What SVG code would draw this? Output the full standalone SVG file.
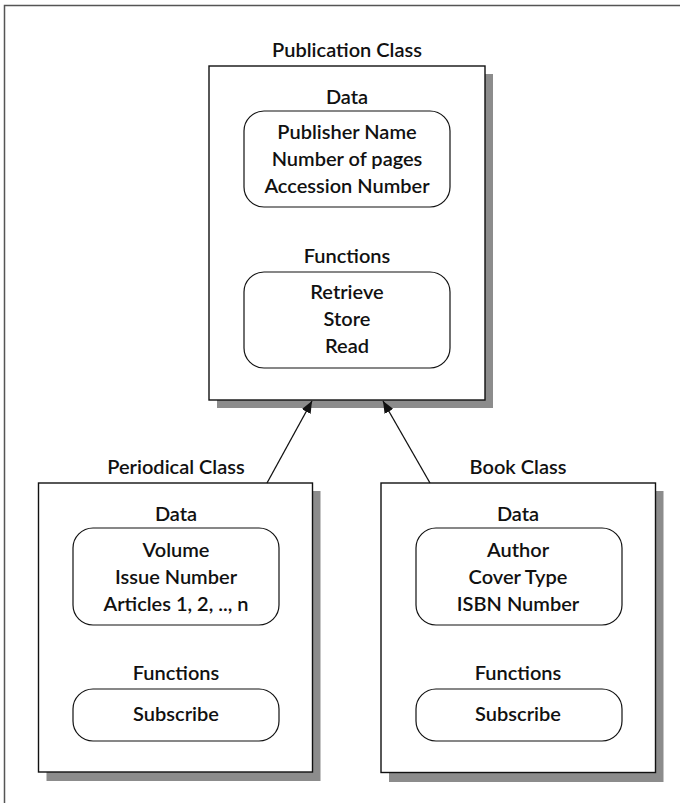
<svg xmlns="http://www.w3.org/2000/svg" width="680" height="803" viewBox="0 0 680 803">
  <style>
    .frame { fill: none; stroke: #555; stroke-width: 1.5; }
    .shadow { fill: #8c8c8c; }
    .cls { fill: #fff; stroke: #111; stroke-width: 1.4; }
    .slot { fill: #fff; stroke: #111; stroke-width: 1.2; }
    .edge { stroke: #111; stroke-width: 1.3; fill: none; marker-end: url(#head); }
    text { font-family: Lato, "Open Sans", "Liberation Sans", sans-serif; font-size: 20px; font-weight: 600; fill: #111; text-anchor: middle; }
  </style>
  <defs>
    <marker id="head" viewBox="0 0 12 10" refX="12" refY="5" markerWidth="12" markerHeight="10" markerUnits="userSpaceOnUse" orient="auto">
      <path d="M0,0 L12,5 L0,10 Z" fill="#111"/>
    </marker>
  </defs>

  <rect width="680" height="803" fill="#fff"/>
  <!-- page frame: left and top rule only -->
  <path class="frame" d="M4.5,803 V5.5 H680"/>

  <g id="publication">
    <rect class="shadow" x="217" y="74" width="276" height="334"/>
    <rect class="cls" x="209" y="66" width="276" height="334"/>
    <text x="347" y="57">Publication Class</text>
    <text x="347" y="104">Data</text>
    <rect class="slot" x="244" y="111" width="206" height="96" rx="20"/>
    <text x="347" y="139">Publisher Name</text>
    <text x="347" y="166">Number of pages</text>
    <text x="347" y="193">Accession Number</text>
    <text x="347" y="263">Functions</text>
    <rect class="slot" x="244" y="272" width="206" height="96" rx="20"/>
    <text x="347" y="299">Retrieve</text>
    <text x="347" y="326">Store</text>
    <text x="347" y="353">Read</text>
  </g>

  <g id="periodical">
    <rect class="shadow" x="46.5" y="491" width="274" height="290"/>
    <rect class="cls" x="38.5" y="483" width="274" height="289"/>
    <text x="176" y="474">Periodical Class</text>
    <text x="176" y="521">Data</text>
    <rect class="slot" x="73" y="528" width="206" height="97" rx="20"/>
    <text x="176" y="557">Volume</text>
    <text x="176" y="584">Issue Number</text>
    <text x="176" y="611">Articles 1, 2, .., n</text>
    <text x="176" y="680">Functions</text>
    <rect class="slot" x="73" y="689" width="206" height="52" rx="20"/>
    <text x="176" y="721">Subscribe</text>
  </g>

  <g id="book">
    <rect class="shadow" x="389" y="491" width="274.5" height="291"/>
    <rect class="cls" x="381" y="483" width="274.5" height="289.5"/>
    <text x="518" y="474">Book Class</text>
    <text x="518" y="521">Data</text>
    <rect class="slot" x="416" y="528" width="206" height="97" rx="20"/>
    <text x="518" y="557">Author</text>
    <text x="518" y="584">Cover Type</text>
    <text x="518" y="611">ISBN Number</text>
    <text x="518" y="680">Functions</text>
    <rect class="slot" x="416" y="689" width="206" height="52" rx="20"/>
    <text x="518" y="721">Subscribe</text>
  </g>

  <g id="connectors">
    <line class="edge" x1="267" y1="483" x2="312" y2="401"/>
    <line class="edge" x1="430" y1="483" x2="383" y2="401"/>
  </g>
</svg>
